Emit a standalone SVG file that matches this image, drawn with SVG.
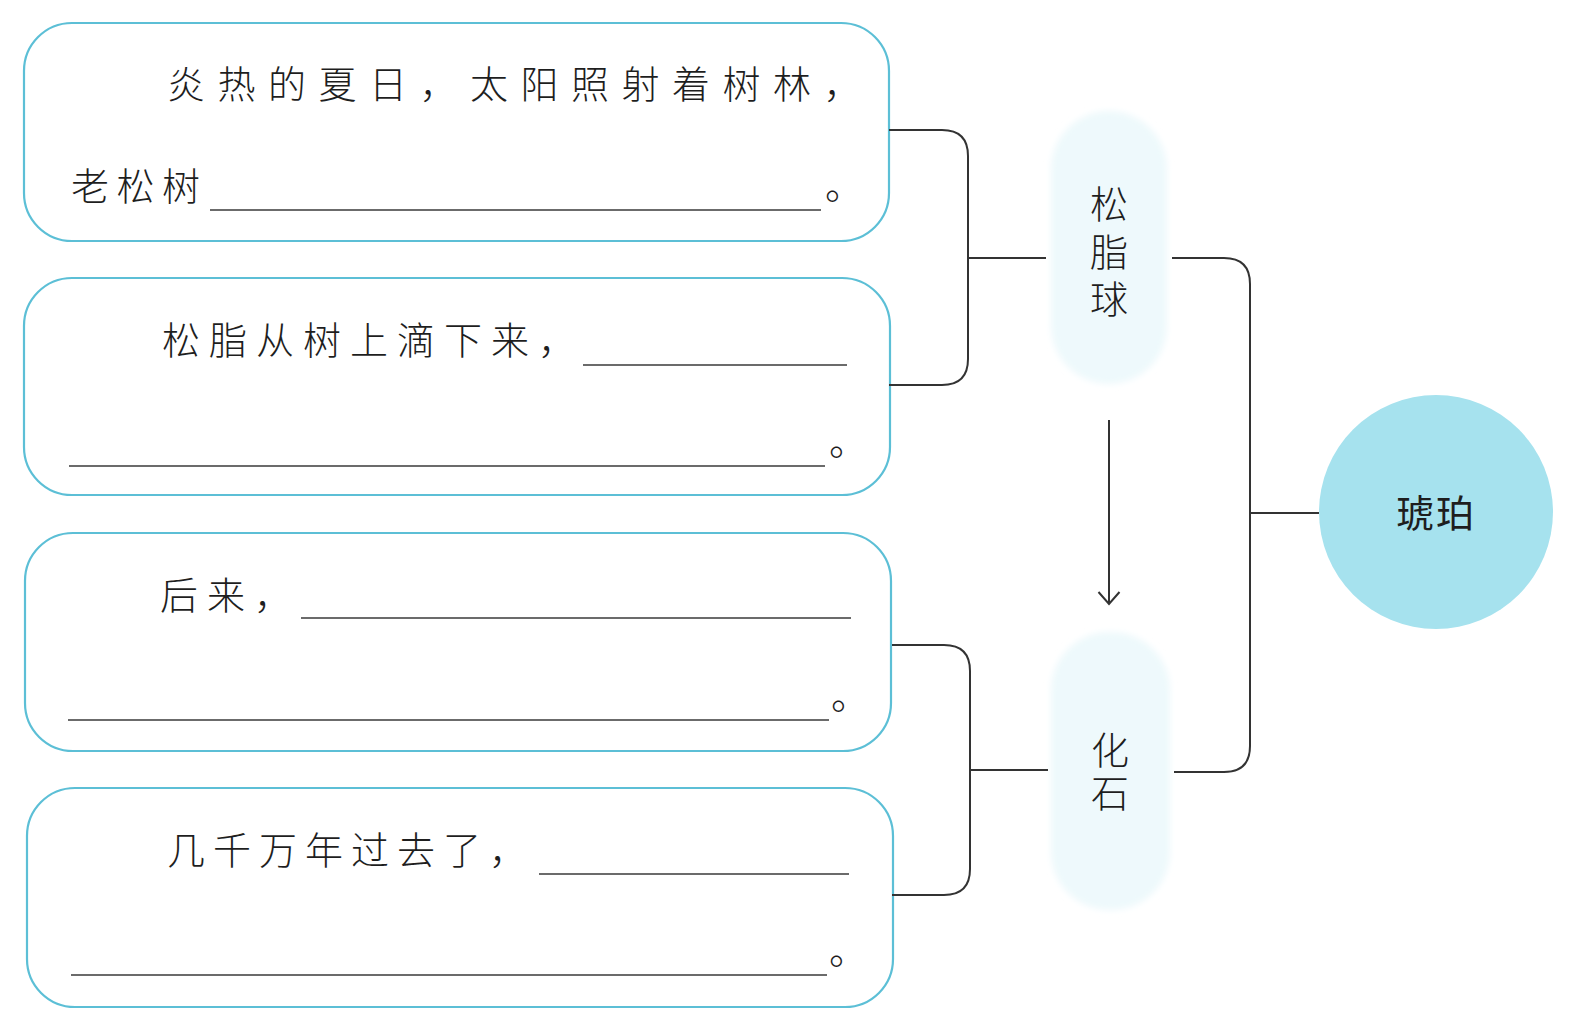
<svg xmlns="http://www.w3.org/2000/svg" width="1585" height="1030" viewBox="0 0 1585 1030">
<style>
.box{fill:#ffffff;stroke:#5cbfd6;stroke-width:2.2}
.t{font-family:"Noto Sans CJK SC","Noto Sans CJK JP",sans-serif;font-size:38px;font-weight:300;fill:#1e1e1e}
.ul{stroke:#3a3a3a;stroke-width:1.4;fill:none}
.c{stroke:#333333;stroke-width:2;fill:none}
.blob{fill:#eef9fc}
.v{writing-mode:vertical-rl;font-size:38px}
</style>
<defs>
<filter id="soft" x="-20%" y="-20%" width="140%" height="140%"><feGaussianBlur stdDeviation="3"/></filter>
</defs>
<rect width="1585" height="1030" fill="#ffffff"/>
<g id="box1">
<rect class="box" x="24" y="23" width="865" height="218" rx="48"/>
<text class="t" x="167" y="98" style="letter-spacing:12.5px">炎热的夏日，太阳照射着树林，</text>
<text class="t" x="71" y="200" style="letter-spacing:7.5px">老松树</text>
<line class="ul" x1="210" y1="210" x2="821" y2="210"/>
<text class="t" x="825" y="199">。</text>
</g>
<g id="box2">
<rect class="box" x="24" y="278" width="866" height="217" rx="48"/>
<text class="t" x="162" y="354" style="letter-spacing:9px">松脂从树上滴下来，</text>
<line class="ul" x1="583" y1="365" x2="847" y2="365"/>
<line class="ul" x1="69" y1="466" x2="825" y2="466"/>
<text class="t" x="829" y="455">。</text>
</g>
<g id="box3">
<rect class="box" x="25" y="533" width="866" height="218" rx="48"/>
<text class="t" x="160" y="609" style="letter-spacing:9px">后来，</text>
<line class="ul" x1="301" y1="618" x2="851" y2="618"/>
<line class="ul" x1="68" y1="720" x2="829" y2="720"/>
<text class="t" x="831" y="709">。</text>
</g>
<g id="box4">
<rect class="box" x="27" y="788" width="866" height="219" rx="48"/>
<text class="t" x="167" y="864" style="letter-spacing:8px">几千万年过去了，</text>
<line class="ul" x1="539" y1="874" x2="849" y2="874"/>
<line class="ul" x1="71" y1="975" x2="827" y2="975"/>
<text class="t" x="829" y="964">。</text>
</g>
<g id="songzhiqiu">
<rect class="blob" x="1051" y="111" width="116" height="273" rx="58" filter="url(#soft)"/>
<text class="t v" x="1109" y="185" style="letter-spacing:9.5px">松脂球</text>
</g>
<g id="huashi">
<rect class="blob" x="1051" y="632" width="119" height="278" rx="58" filter="url(#soft)"/>
<text class="t v" x="1110" y="731" style="letter-spacing:5px">化石</text>
</g>
<g id="hupo">
<circle cx="1436" cy="512" r="117" fill="#a6e2ee"/>
<text class="t" x="1436" y="527" text-anchor="middle" style="font-weight:400;letter-spacing:2px">琥珀</text>
</g>
<g id="connectors">
<path class="c" d="M889,130 H942 Q968,130 968,156 V359 Q968,385 942,385 H889"/>
<path class="c" d="M968,258 H1046"/>
<path class="c" d="M892,645 H944 Q970,645 970,671 V869 Q970,895 944,895 H892"/>
<path class="c" d="M970,770 H1048"/>
<path class="c" d="M1172,258 H1224 Q1250,258 1250,284 V746 Q1250,772 1224,772 H1174"/>
<path class="c" d="M1250,513 H1319"/>
<path class="c" d="M1109,420 V604"/>
<path class="c" d="M1098.5,592 L1109,604 L1119.5,592"/>
</g>
</svg>
